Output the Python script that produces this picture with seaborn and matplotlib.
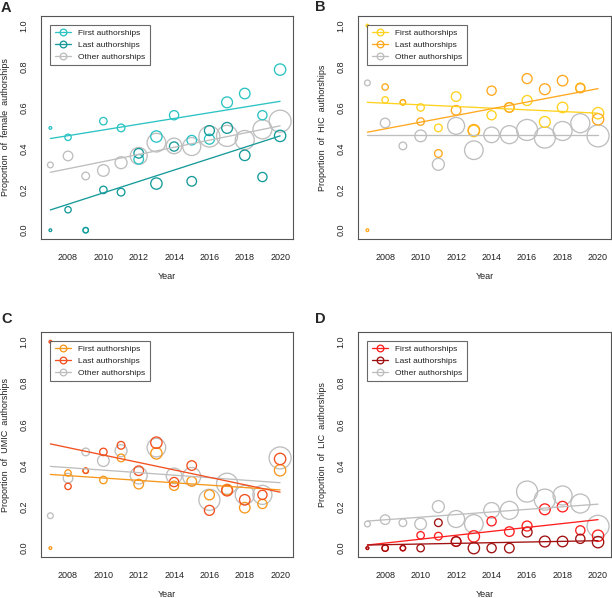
import numpy as np
import matplotlib
matplotlib.use('Agg')
import matplotlib.pyplot as plt
import seaborn as sns
from matplotlib.lines import Line2D

sns.set_style('white')
plt.rcParams['font.family'] = ['Liberation Sans', 'DejaVu Sans']

# Dados
years = [2007, 2008, 2009, 2010, 2011, 2012, 2013, 2014, 2015, 2016, 2017, 2018, 2019, 2020]
n_papers = [2, 11, 8, 15, 16, 25, 35, 23, 25, 27, 32, 30, 23, 35]
n_other = [9, 25, 16, 37, 39, 78, 94, 66, 88, 120, 120, 98, 98, 131]

female_first = [0.50, 0.454, 0.0, 0.533, 0.50, 0.347, 0.458, 0.562, 0.44, 0.445, 0.625, 0.668, 0.562, 0.785]
female_last = [0.0, 0.10, 0.0, 0.197, 0.186, 0.376, 0.228, 0.409, 0.239, 0.487, 0.50, 0.366, 0.26, 0.461]
female_other = [0.319, 0.363, 0.265, 0.292, 0.33, 0.363, 0.428, 0.412, 0.409, 0.458, 0.461, 0.441, 0.493, 0.533]

hic_first = [1.0, 0.637, 0.625, 0.60, 0.50, 0.653, 0.485, 0.562, 0.60, 0.634, 0.529, 0.60, 0.697, 0.572]
hic_last = [0.0, 0.70, 0.625, 0.531, 0.375, 0.586, 0.489, 0.682, 0.60, 0.741, 0.689, 0.731, 0.694, 0.542]
hic_other = [0.72, 0.524, 0.412, 0.461, 0.322, 0.51, 0.391, 0.466, 0.467, 0.49, 0.453, 0.485, 0.523, 0.461]

umic_first = [0.0, 0.364, 0.375, 0.33, 0.437, 0.31, 0.459, 0.302, 0.323, 0.258, 0.283, 0.196, 0.214, 0.377]
umic_last = [1.0, 0.299, 0.375, 0.466, 0.498, 0.375, 0.511, 0.32, 0.40, 0.183, 0.279, 0.234, 0.258, 0.432]
umic_other = [0.157, 0.339, 0.466, 0.424, 0.472, 0.352, 0.487, 0.35, 0.347, 0.234, 0.312, 0.258, 0.258, 0.437]

lic_first = [0.0, 0.0, 0.0, 0.062, 0.058, 0.032, 0.057, 0.13, 0.08, 0.107, 0.188, 0.201, 0.086, 0.06]
lic_last = [0.0, 0.0, 0.0, 0.0, 0.123, 0.032, 0.0, 0.0, 0.0, 0.078, 0.032, 0.032, 0.045, 0.029]
lic_other = [0.117, 0.138, 0.123, 0.117, 0.201, 0.141, 0.117, 0.183, 0.183, 0.274, 0.235, 0.255, 0.216, 0.106]

# Linhas de tendência (valores em 2007 e 2020)
trend_years = [2007, 2020]
female_trend = {'first': [0.448, 0.630], 'last': [0.099, 0.461], 'other': [0.283, 0.510]}
hic_trend = {'first': [0.625, 0.572], 'last': [0.479, 0.692], 'other': [0.466, 0.466]}
umic_trend = {'first': [0.357, 0.282], 'last': [0.505, 0.271], 'other': [0.396, 0.317]}
lic_trend = {'first': [0.015, 0.138], 'last': [0.015, 0.036], 'other': [0.131, 0.213]}

gray = '#BEBEBE'
panels = [
    ('A', 'Proportion  of  female  authorships', female_first, female_last, female_other, female_trend, '#2CC3C3', '#169A9A'),
    ('B', 'Proportion  of  HIC  authorships', hic_first, hic_last, hic_other, hic_trend, '#FFD21F', '#FFA81F'),
    ('C', 'Proportion  of  UMIC  authorships', umic_first, umic_last, umic_other, umic_trend, '#F7981D', '#F2501E'),
    ('D', 'Proportion  of  LIC  authorships', lic_first, lic_last, lic_other, lic_trend, '#FF1F1F', '#A01010'),
]

W, H = 612, 598
fig = plt.figure(figsize=(W / 100, H / 100), dpi=100)
fig.patch.set_facecolor('white')

# posições em pixels: esquerda, topo, direita, base
boxes = [(41, 16, 293, 239), (358, 16, 611, 239), (41, 332, 293, 557), (358, 332, 611, 557)]
letters_pos = [(1, 1), (315, 0), (1, 312), (315, 312)]

N_MAX = 150
S_MAX = 1.91 * N_MAX
axis_col = '#555555'

for (letter, ylab, first, last, other, trend, c1, c2), (l, t, r, b), (lx, ly) in zip(panels, boxes, letters_pos):
    ax = fig.add_axes([l / W, 1 - b / H, (r - l) / W, (b - t) / H])

    for vals, n, col in [(other, n_other, gray), (first, n_papers, c1), (last, n_papers, c2)]:
        sns.scatterplot(x=years, y=vals, size=n, sizes=(0, S_MAX), size_norm=(0, N_MAX),
                        facecolor='none', edgecolor=col, linewidth=0.95, legend=False, ax=ax)

    for key, col in [('other', gray), ('first', c1), ('last', c2)]:
        sns.lineplot(x=trend_years, y=trend[key], color=col, linewidth=0.95, ax=ax)

    ax.set_xlim(2006.47, 2020.73)
    ax.set_ylim(-0.043, 1.047)
    ax.set_xticks([2008, 2010, 2012, 2014, 2016, 2018, 2020])
    ax.set_yticks([0.0, 0.2, 0.4, 0.6, 0.8, 1.0])
    ax.set_yticklabels(['0.0', '0.2', '0.4', '0.6', '0.8', '1.0'], rotation=90, va='center')
    ax.tick_params(axis='both', direction='out', length=4, width=0.8, color=axis_col,
                   labelsize=6.5, labelcolor='#222222')
    ax.tick_params(axis='x', pad=6)
    ax.tick_params(axis='y', pad=5)
    for sp in ax.spines.values():
        sp.set_color(axis_col)
        sp.set_linewidth(0.8)
    ax.set_xlabel('Year', fontsize=6.5, color='#222222', labelpad=7)
    ax.set_ylabel(ylab, fontsize=6.5, color='#222222', labelpad=7)

    handles = [Line2D([], [], color=c, marker='o', mfc='none', markersize=4.8, lw=0.95, mew=0.95)
               for c in (c1, c2, gray)]
    leg = ax.legend(handles, ['First authorships', 'Last authorships', 'Other authorships'],
                    loc='upper left', bbox_to_anchor=(9 / (r - l), 1 - 9 / (b - t)),
                    fontsize=6, frameon=True, fancybox=False, borderaxespad=0,
                    handlelength=2.0, handletextpad=0.8, labelspacing=0.45, borderpad=0.55)
    leg.get_frame().set_edgecolor('#444444')
    leg.get_frame().set_linewidth(0.8)
    for txt in leg.get_texts():
        txt.set_color('#222222')

    fig.text(lx / W, 1 - ly / H, letter, fontsize=10.5, fontweight='bold', ha='left', va='top')

fig.savefig('out.png', dpi=100, facecolor='white')
